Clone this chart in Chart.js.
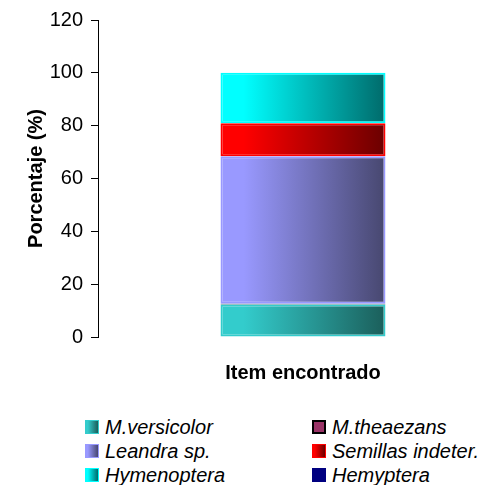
<!DOCTYPE html>
<html>
<head>
<meta charset="utf-8">
<script src="https://cdn.jsdelivr.net/npm/chart.js@4/dist/chart.umd.min.js"></script>
<style>
  body { margin: 0; width: 491px; height: 485px; overflow: hidden; background: #fff; position: relative; font-family: "Liberation Sans", Arial, sans-serif; }
  #wrap { position: absolute; left: 0; top: 0; width: 510px; height: 400px; }
  .item { position: absolute; height: 24px; line-height: 24px; font-size: 20px; font-style: italic; color: #000; white-space: nowrap; }
  .box { position: absolute; left: 0; top: 5px; width: 14px; height: 14px; box-sizing: border-box; }
  .item span { position: absolute; left: 20px; top: 0; }
</style>
</head>
<body>
<div id="wrap"><canvas id="cnv" width="510" height="400"></canvas></div>
<div id="legend"></div>
<script>
// stacked percentages, bottom to top
const categories = ['Item encontrado'];
const seriesNames = ['M.versicolor', 'M.theaezans', 'Leandra sp.', 'Semillas indeter.', 'Hymenoptera', 'Hemyptera'];
const versicolor = [12.3];
const theaezans = [0.3];
const leandra = [55.8];
const semillas = [12.5];
const hymenoptera = [19.1];
const hemyptera = [0];
const yTicks = [0, 20, 40, 60, 80, 100, 120];

// light colour on the left, dark on the right
const lightColors = ['#33cccc', '#993366', '#9999ff', '#ff0000', '#00ffff', '#000080'];
const darkColors = ['#1b5e5a', '#993366', '#47476f', '#6a0000', '#006a6a', '#000080'];
const borderColors = ['#33cccc', '#000000', '#9999ff', '#ff0000', '#00ffff', '#000080'];

const BAR_PCT = 0.4024;

function shade(i) {
  return function (ctx) {
    const chart = ctx.chart;
    const area = chart.chartArea;
    if (!area || lightColors[i] === darkColors[i]) return lightColors[i];
    const mid = (area.left + area.right) / 2;
    const half = area.width * BAR_PCT / 2;
    const g = chart.ctx.createLinearGradient(mid - half, 0, mid + half, 0);
    g.addColorStop(0, lightColors[i]);
    g.addColorStop(0.14, lightColors[i]);
    g.addColorStop(1, darkColors[i]);
    return g;
  };
}

const values = [versicolor, theaezans, leandra, semillas, hymenoptera, hemyptera];
const datasets = seriesNames.map((name, i) => ({
  label: name,
  data: values[i],
  backgroundColor: shade(i),
  borderColor: borderColors[i],
  borderWidth: i === 1 ? 1 : 2,
  borderSkipped: false,
  barPercentage: BAR_PCT,
  categoryPercentage: 1
}));

new Chart(document.getElementById('cnv').getContext('2d'), {
  type: 'bar',
  data: { labels: categories, datasets: datasets },
  options: {
    responsive: false,
    animation: false,
    layout: { padding: { top: 20, right: 2, left: 0, bottom: 0 } },
    plugins: { legend: { display: false }, tooltip: { enabled: false } },
    scales: {
      x: {
        stacked: true,
        grid: { display: false },
        border: { display: false },
        ticks: { display: false },
        title: {
          display: true,
          text: 'Item encontrado',
          color: '#000',
          font: { family: 'Liberation Sans', size: 20, weight: 'bold' },
          padding: { top: 0, bottom: 15 }
        },
        afterFit: s => { s.height = 63; }
      },
      y: {
        stacked: true,
        min: 0,
        max: 120,
        afterBuildTicks: s => { s.ticks = yTicks.map(v => ({ value: v })); },
        ticks: {
          color: '#000',
          padding: 8,
          font: { family: 'Liberation Sans', size: 20 }
        },
        grid: { display: true, drawOnChartArea: false, drawTicks: true, tickLength: 7, color: '#000' },
        border: { display: true, color: '#000', width: 1 },
        title: {
          display: true,
          text: 'Porcentaje (%)',
          color: '#000',
          font: { family: 'Liberation Sans', size: 20, weight: 'bold' },
          padding: { top: 24, bottom: 0 }
        },
        afterFit: s => { s.width = 98; }
      }
    }
  }
});

// legend, two columns like the original
const legendPos = [
  [85, 415], [312, 415],
  [85, 439], [312, 439],
  [85, 463], [312, 463]
];
const legendOrder = [0, 1, 2, 3, 4, 5];
const legend = document.getElementById('legend');
legendOrder.forEach((idx, k) => {
  const item = document.createElement('div');
  item.className = 'item';
  item.style.left = legendPos[k][0] + 'px';
  item.style.top = legendPos[k][1] + 'px';
  const box = document.createElement('div');
  box.className = 'box';
  if (idx === 1) {
    box.style.background = lightColors[idx];
    box.style.border = '2px solid #000';
  } else {
    box.style.background = 'linear-gradient(to right, ' + lightColors[idx] + ' 15%, ' + darkColors[idx] + ')';
    box.style.border = '1px solid ' + borderColors[idx];
  }
  const txt = document.createElement('span');
  txt.textContent = seriesNames[idx];
  item.appendChild(box);
  item.appendChild(txt);
  legend.appendChild(item);
});
</script>
</body>
</html>
